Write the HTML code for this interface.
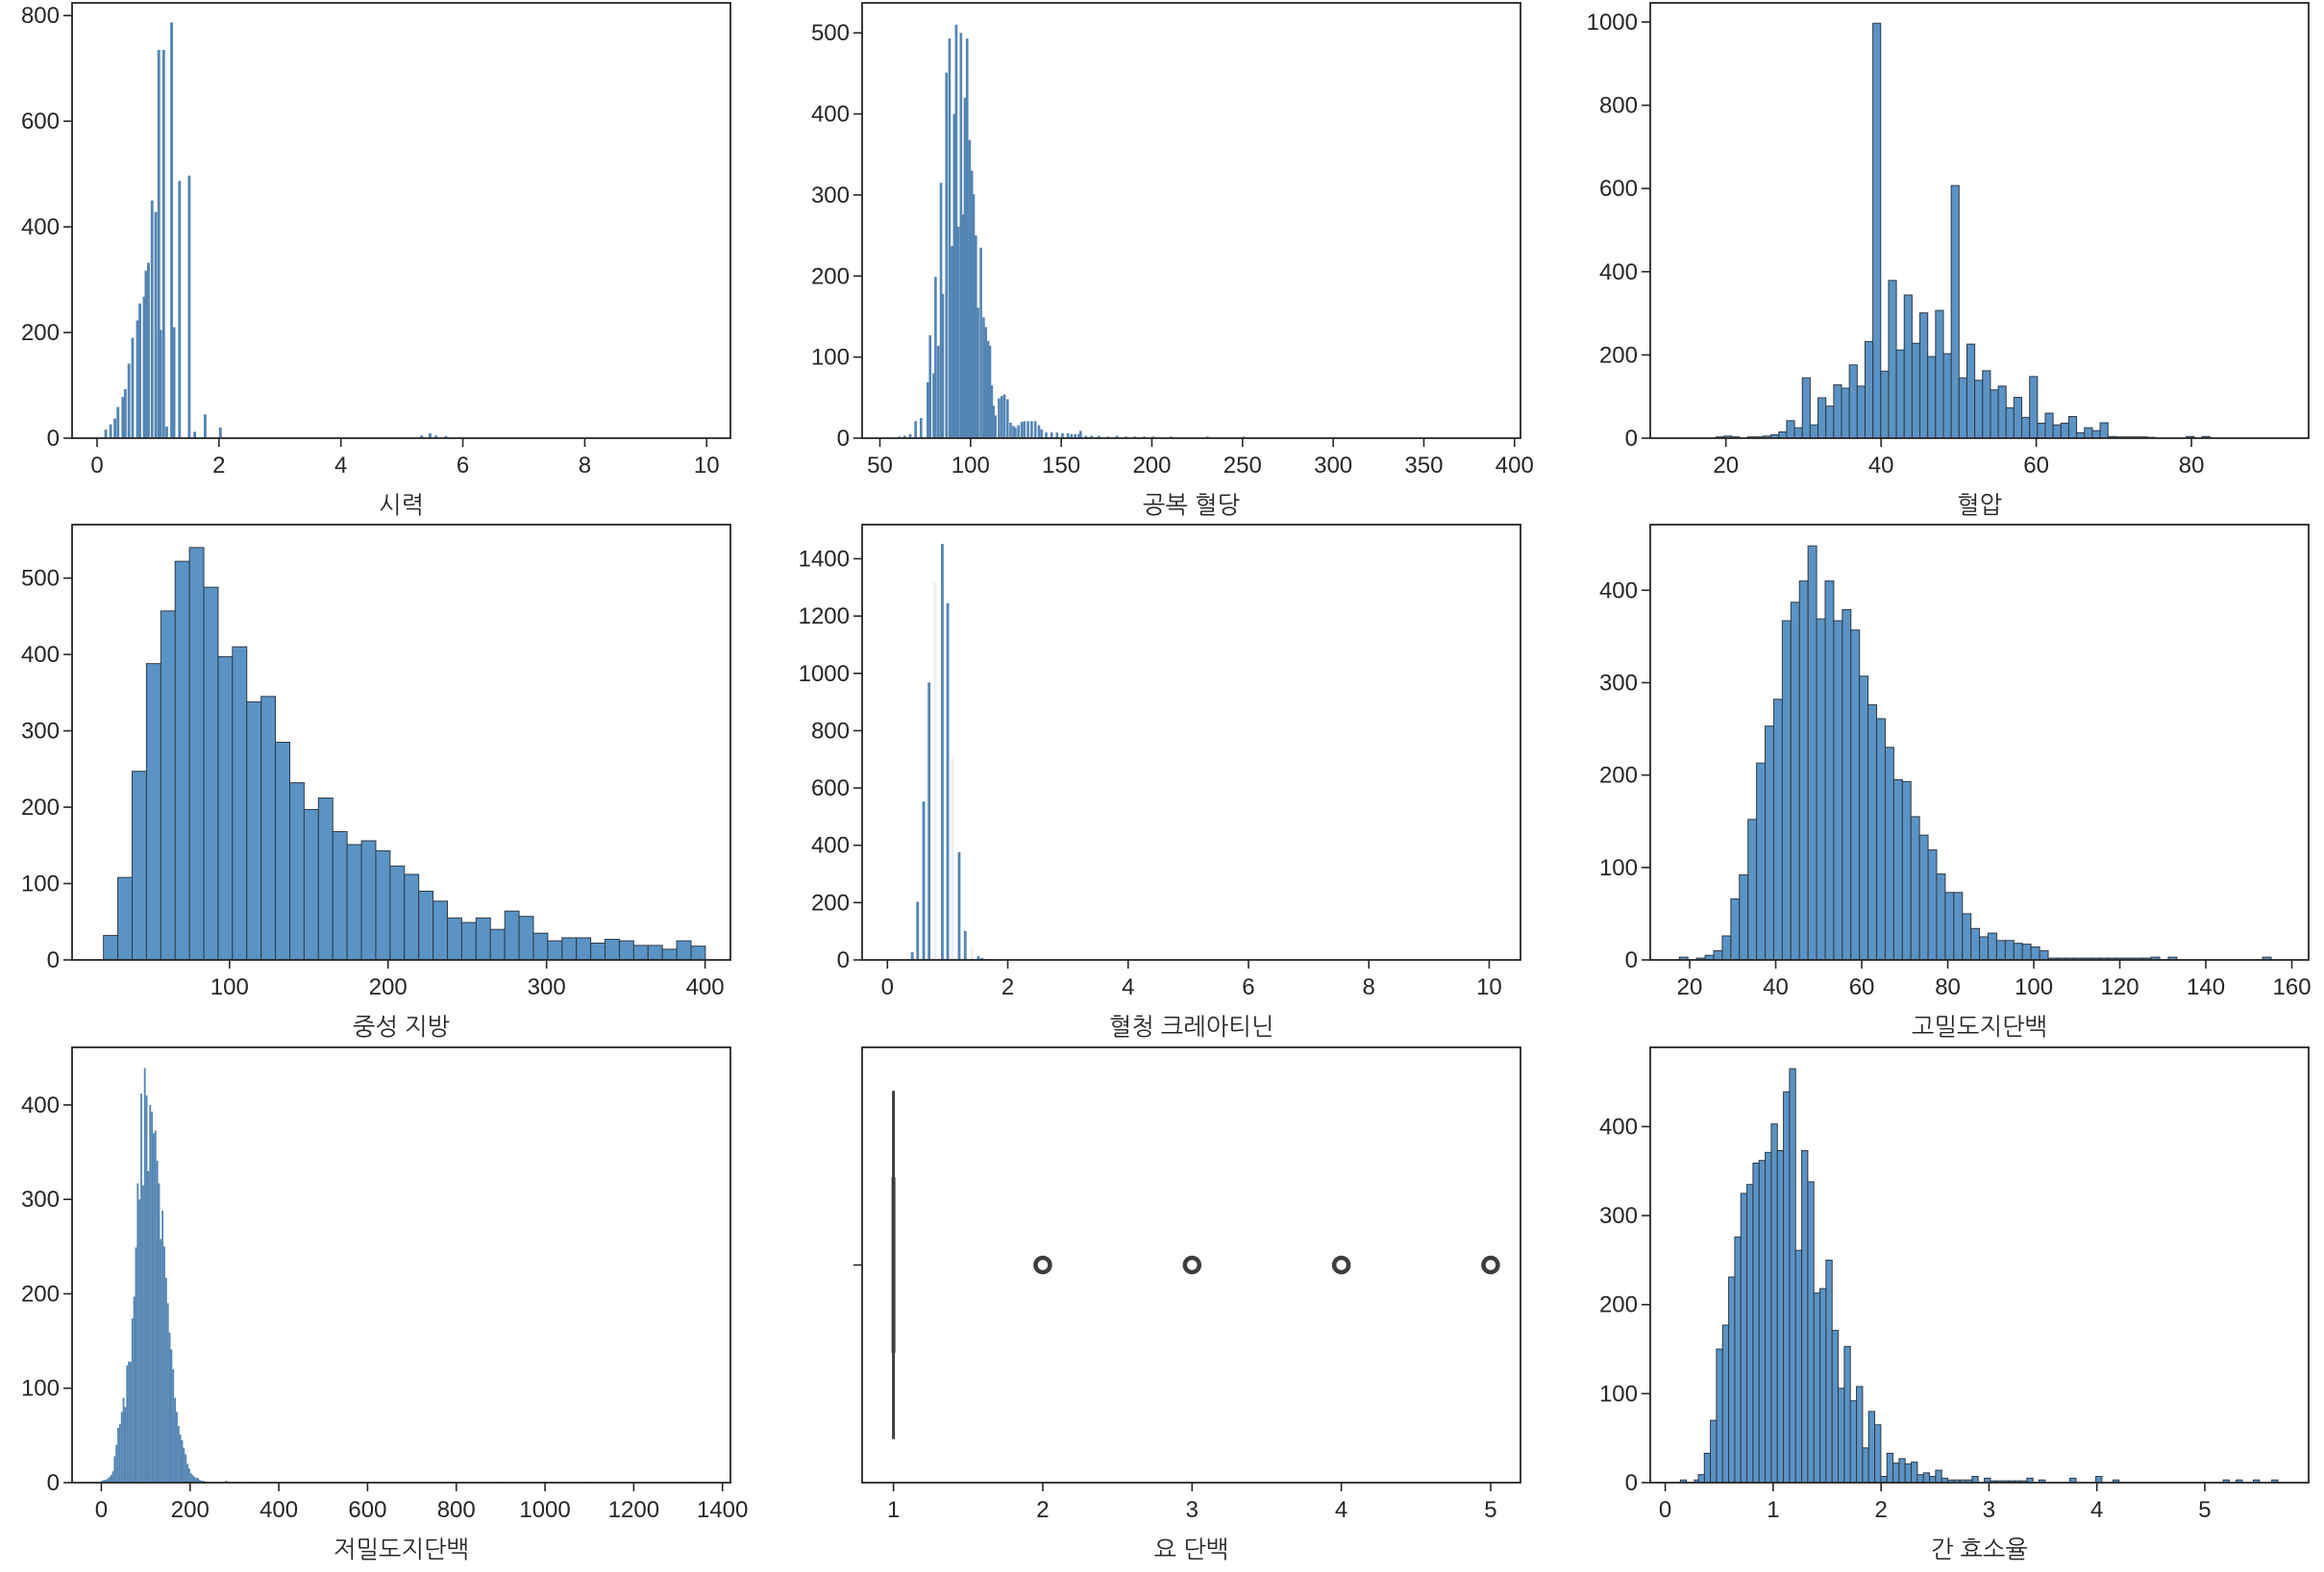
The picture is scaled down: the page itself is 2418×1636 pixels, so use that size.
<!DOCTYPE html>
<html><head><meta charset="utf-8">
<style>
html,body{margin:0;padding:0;background:#fff;}
svg{display:block;font-family:"Liberation Sans","NanumGothic","Noto Sans CJK KR",sans-serif;}
</style></head>
<body>
<svg id="fig" width="2418" height="1636" viewBox="0 0 2418 1636" xmlns="http://www.w3.org/2000/svg"></svg>
<script>
// ---------- data ----------
const visionX = [0.12,0.2,0.27,0.32,0.4,0.44,0.5,0.56,0.64,0.68,0.75,0.78,0.82,0.88,0.94,0.99,1.02,1.07,1.12,1.2,1.24,1.33,1.49,1.58,1.75,2.0,5.3,5.44,5.54,5.7,9.84];
const visionCounts = [16,26,37,59,78,93,141,190,223,255,268,317,332,450,428,735,205,735,22,787,210,487,497,12,45,20,5,9,5,4,1];
const glucoseX = [60,63,66,69,72,75.7,77,79,80,81.5,83,84,86,87.7,89,90.3,91.4,92.5,94,95,96.2,97.4,98.8,100,101,102.2,103.4,105,106.5,107.7,109,110,111,112,113,115,116.5,118,119.7,121.4,123,124,125.7,127.5,129,131,133,135,137,138.5,141,144,147,150,153,155,157,159,160,163,166,170,175,180,185,190,195,200,210,220,230,240,250,260,300,350,385];
const glucoseCounts = [2,3,5,21,25,69,127,80,199,114,315,178,451,493,237,400,510,261,500,276,420,493,368,330,301,250,161,235,149,137,120,114,65,40,28,49,52,54,48,19,15,13,16,20,21,21,21,21,16,11,7,7,7,6,6,5,5,5,9,3,3,3,2,3,2,2,2,2,2,1,2,1,2,1,1,1,1];
const bpStart = 14.7;
const bpWidth = 1.01;
const bpCounts = [0,0,0,0,3,5,3,0,3,3,5,8,15,42,25,145,32,97,77,128,120,176,125,232,997,161,379,212,344,228,301,196,307,203,607,145,226,139,162,116,125,73,98,50,148,36,60,32,36,52,13,25,18,37,4,3,3,3,3,2,0,0,0,0,4,0,4];
const tgStart = 20.5;
const tgWidth = 9.04;
const tgCounts = [32,108,247,388,457,522,540,488,397,410,338,345,285,232,197,212,168,151,156,143,123,112,90,77,55,49,55,40,64,57,35,25,29,29,22,27,25,19,19,14,25,18];
const creatX = [0.39,0.48,0.58,0.67,0.89,0.98,1.17,1.27,1.49,1.55,1.7,1.9];
const creatCounts = [27,203,553,968,1452,1245,376,101,13,7,3,2];
const creatFaintX = [0.77,1.06,1.38];
const creatFaintCounts = [1317,707,40];
const hdlStart = 17.6;
const hdlWidth = 1.994;
const hdlCounts = [3,0,2,5,10,26,66,92,152,213,253,282,367,387,410,448,369,410,367,379,357,307,276,261,230,195,193,155,135,119,93,73,73,50,34,25,29,21,21,18,17,14,10,2,2,2,2,2,2,2,2,2,2,2,2,3,0,3,0,0,0,0,0,0,0,0,0,0,3];
const ldlStart = 0;
const ldlWidth = 4;
const ldlCounts = [2,3,3,4,6,8,12,28,40,58,62,75,90,80,124,128,128,174,197,249,317,300,412,315,439,410,330,400,393,370,373,341,317,258,288,250,217,190,159,141,120,90,75,60,51,45,37,30,20,15,10,8,6,5,5,3,2,2,1,1];
const ldlExtraX = [280,300,340,900,1000,1100,1330];
const ldlExtraCounts = [2,1,1,1,1,1,1];
const urineBox = [1,1,1,1,1];
const urineOutliers = [2,3,4,5];
const liverStart = 0.362;
const liverWidth = 0.0564;
const liverCounts = [33,70,150,177,231,276,325,335,359,362,371,403,373,439,465,261,373,338,213,218,250,171,106,153,92,108,39,80,65,7,33,22,27,21,23,9,11,7,14,5,3,3,3,3,7,0,5,2,2,2,2,2,2,5,0,3];
const liverExtraX = [0.14,0.27,0.307,3.75,3.99,4.15,5.17,5.29,5.45,5.62];
const liverExtraCounts = [3,3,9,5,7,3,3,3,3,3];

const xTicks1 = [0,2,4,6,8,10];
const yTicks1 = [0,200,400,600,800];
const xTicks2 = [50,100,150,200,250,300,350,400];
const yTicks2 = [0,100,200,300,400,500];
const xTicks3 = [20,40,60,80];
const yTicks3 = [0,200,400,600,800,1000];
const xTicks4 = [100,200,300,400];
const yTicks4 = [0,100,200,300,400,500];
const xTicks5 = [0,2,4,6,8,10];
const yTicks5 = [0,200,400,600,800,1000,1200,1400];
const xTicks6 = [20,40,60,80,100,120,140,160];
const yTicks6 = [0,100,200,300,400];
const xTicks7 = [0,200,400,600,800,1000,1200,1400];
const yTicks7 = [0,100,200,300,400];
const xTicks8 = [1,2,3,4,5];
const xTicks9 = [0,1,2,3,4,5];
const yTicks9 = [0,100,200,300,400];
const labels = ["시력","공복 혈당","혈압","중성 지방","혈청 크레아티닌","고밀도지단백","저밀도지단백","요 단백","간 효소율"];

// ---------- drawing ----------
const NS = "http://www.w3.org/2000/svg";
const svg = document.getElementById("fig");
const colL = [75, 897, 1717], rowT = [3, 546, 1090], PW = 685, PH = 453;
const FILL = "#5b93c4", EDGE = "#2e3a46", TXT = "#262626";

function mk(tag, attrs, parent) {
  const e = document.createElementNS(NS, tag);
  for (const k in attrs) e.setAttribute(k, attrs[k]);
  (parent || svg).appendChild(e);
  return e;
}

function makePanel(i, xmin, xmax, ymax, xt, yt, name) {
  const L = colL[i % 3], T = rowT[Math.floor(i / 3)];
  const g = mk("g", {});
  
  
  const sx = v => L + (v - xmin) / (xmax - xmin) * PW;
  const sy = v => T + PH - v / ymax * PH;
  const bars = mk("g", {}, g);
  
  
  const fr = mk("rect", {x: L, y: T, width: PW, height: PH, fill: "none", stroke: TXT, "stroke-width": 1.8}, g);
  
  
  const xa = mk("g", {}, g);
  
  
  xt.forEach(v => {
    const x = sx(v);
    mk("line", {x1: x, x2: x, y1: T + PH, y2: T + PH + 9, stroke: TXT, "stroke-width": 1.6}, xa);
    const t = mk("text", {x: x, y: T + PH + 36, "text-anchor": "middle", "font-size": 24, fill: TXT}, xa);
    
    
    t.textContent = String(v);
  });
  const ya = mk("g", {}, g);
  
  
  (yt || []).forEach(v => {
    const y = sy(v);
    mk("line", {x1: L - 9, x2: L, y1: y, y2: y, stroke: TXT, "stroke-width": 1.6}, ya);
    const t = mk("text", {x: L - 13, y: y + 8, "text-anchor": "end", "font-size": 24, fill: TXT}, ya);
    
    
    t.textContent = String(v);
  });
  const lb = mk("text", {x: L + PW / 2, y: T + PH + 78, "text-anchor": "middle", "font-size": 25, fill: TXT}, g);
  
  
  lb.textContent = labels[i];
  return {sx, sy, bars, T, L};
}

function drawBar(p, x0, w, c, edged, opacity) {
  if (c <= 0) return;
  const a = p.sx(x0), b = p.sx(x0 + w), y = p.sy(c);
  const r = mk("rect", {x: a, y: y, width: Math.max(b - a, 1), height: p.sy(0) - y,
    fill: edged ? FILL : "#5485b3", stroke: edged ? EDGE : "none", "stroke-width": edged ? 1 : 0,
    opacity: opacity || 1}, p.bars);
  
  
}
function drawBinned(p, start, width, counts, edged) {
  counts.forEach((c, k) => drawBar(p, start + k * width, width, c, edged));
}
function drawPoints(p, xs, counts, width, edged, op) {
  xs.forEach((x, k) => drawBar(p, x, width, counts[k], edged, op));
}

let p = makePanel(0, -0.41, 10.39, 824, xTicks1, yTicks1, "vision");
drawPoints(p, visionX, visionCounts, 0.045, false);
p = makePanel(1, 40.2, 403.3, 537, xTicks2, yTicks2, "fasting-glucose");
drawPoints(p, glucoseX, glucoseCounts, 1.4, false);
p = makePanel(2, 10.25, 95.1, 1046, xTicks3, yTicks3, "blood-pressure");
drawBinned(p, bpStart, bpWidth, bpCounts, true);
p = makePanel(3, 0.7, 416, 570, xTicks4, yTicks4, "triglyceride");
drawBinned(p, tgStart, tgWidth, tgCounts, true);
p = makePanel(4, -0.42, 10.52, 1519, xTicks5, yTicks5, "serum-creatinine");
drawPoints(p, creatX, creatCounts, 0.045, false);
drawPoints(p, creatFaintX, creatFaintCounts, 0.045, false, 0.12);
p = makePanel(5, 10.83, 163.9, 471, xTicks6, yTicks6, "hdl");
drawBinned(p, hdlStart, hdlWidth, hdlCounts, true);
p = makePanel(6, -66, 1418, 461, xTicks7, yTicks7, "ldl");
drawBinned(p, ldlStart, ldlWidth, ldlCounts, false);
drawPoints(p, ldlExtraX, ldlExtraCounts, 4, false);
p = makePanel(7, 0.79, 5.2, 1, xTicks8, [], "urine-protein");
{
  const cy = p.T + PH / 2;
  const tk = mk("line", {x1: p.L - 9, x2: p.L, y1: cy, y2: cy, stroke: TXT, "stroke-width": 1.6});
  
  
  const top = p.T + PH * 0.1, bot = p.T + PH * 0.9;
  const box = mk("line", {x1: p.sx(urineBox[1]), x2: p.sx(urineBox[3]), y1: top, y2: bot, stroke: "#3d3d3d", "stroke-width": 3});
  
  
  const med = mk("line", {x1: p.sx(urineBox[2]), x2: p.sx(urineBox[2]), y1: top + 90, y2: bot - 90, stroke: "#3d3d3d", "stroke-width": 4});
  
  
  urineOutliers.forEach(v => {
    const c = mk("circle", {cx: p.sx(v), cy: cy, r: 7.5, fill: "none", stroke: "#3d3d3d", "stroke-width": 4.5});
    
    
  });
}
p = makePanel(8, -0.139, 5.962, 489, xTicks9, yTicks9, "liver-enzyme-ratio");
drawBinned(p, liverStart, liverWidth, liverCounts, true);
drawPoints(p, liverExtraX, liverExtraCounts, 0.0564, true);
</script>
</body></html>
